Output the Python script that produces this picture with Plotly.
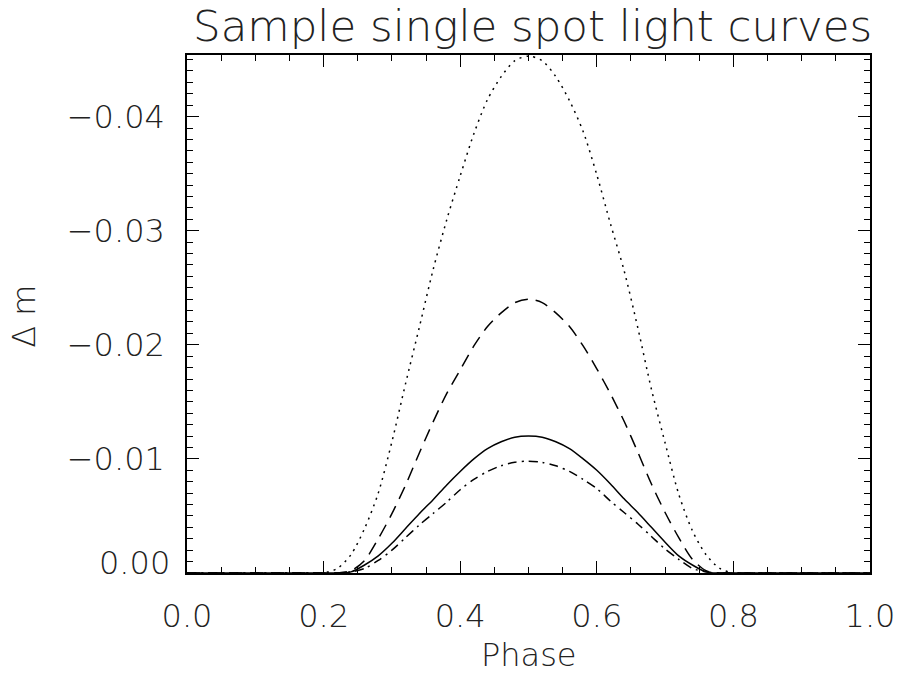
import plotly.graph_objects as go

# Phase grid and light-curve depths (delta magnitude, negative = brighter)
phase = [0.0, 0.18, 0.20, 0.22, 0.24, 0.26, 0.28, 0.30, 0.32, 0.34, 0.36, 0.38,
         0.40, 0.42, 0.44, 0.46, 0.48, 0.50, 0.52, 0.54, 0.56, 0.58, 0.60, 0.62,
         0.64, 0.66, 0.68, 0.70, 0.72, 0.74, 0.76, 0.78, 0.80, 0.82, 1.0]

dm_dotted = [0.0, 0.0, 0.0, -0.0004, -0.0016, -0.0039, -0.0070, -0.0115, -0.0166,
             -0.0215, -0.0265, -0.0309, -0.0348, -0.0385, -0.0415, -0.0435, -0.0449,
             -0.0453, -0.0449, -0.0435, -0.0414, -0.0387, -0.0349, -0.0306, -0.0265,
             -0.0215, -0.0161, -0.0114, -0.0069, -0.0037, -0.0016, -0.0004, 0.0, 0.0, 0.0]

dm_dashed = [0.0, 0.0, 0.0, 0.0, -0.0002, -0.0011, -0.0030, -0.0052, -0.0077,
             -0.0105, -0.0132, -0.0157, -0.0178, -0.0199, -0.0216, -0.0228, -0.0237,
             -0.0240, -0.0237, -0.0228, -0.0216, -0.0199, -0.0179, -0.0157, -0.0133,
             -0.0106, -0.0078, -0.0053, -0.0031, -0.0012, -0.0002, 0.0, 0.0, 0.0, 0.0]

dm_solid = [0.0, 0.0, 0.0, 0.0, -0.0001, -0.0007, -0.0015, -0.0026, -0.0039,
            -0.0052, -0.0064, -0.0077, -0.0089, -0.0100, -0.0109, -0.0115, -0.0119,
            -0.0120, -0.0119, -0.0115, -0.0109, -0.0100, -0.0090, -0.0078, -0.0065,
            -0.0053, -0.0040, -0.0027, -0.0015, -0.0007, -0.0001, 0.0, 0.0, 0.0, 0.0]

dm_dashdot = [0.0, 0.0, 0.0, 0.0, -0.0001, -0.0004, -0.0011, -0.0020, -0.0031,
              -0.0042, -0.0052, -0.0062, -0.0073, -0.0082, -0.0089, -0.0094, -0.0097,
              -0.0098, -0.0097, -0.0094, -0.0089, -0.0082, -0.0074, -0.0063, -0.0053,
              -0.0043, -0.0032, -0.0021, -0.0012, -0.0004, -0.0001, 0.0, 0.0, 0.0, 0.0]

x_ticks = [0.0, 0.2, 0.4, 0.6, 0.8, 1.0]
x_ticklabels = ["0.0", "0.2", "0.4", "0.6", "0.8", "1.0"]
y_ticks = [-0.04, -0.03, -0.02, -0.01, 0.0]
y_ticklabels = ["\u22120.04", "\u22120.03", "\u22120.02", "\u22120.01", ""]

FONT = "DejaVu Sans"
INK = "black"
TEXT_INK = "#222"

fig = go.Figure()
styles = [
    (dm_dotted, "2px,5px"),
    (dm_dashed, "13px,8px"),
    (dm_solid, "solid"),
    (dm_dashdot, "9px,5px,2px,5px"),
]
for ys, dash in styles:
    fig.add_trace(go.Scatter(
        x=phase, y=ys, mode="lines",
        line=dict(color=INK, width=1.5, dash=dash, shape="spline", smoothing=0.8),
        showlegend=False, hoverinfo="skip",
    ))

txt = dict(family=FONT, size=32, color=TEXT_INK, weight=200)

axis_common = dict(
    showline=True, linecolor=INK, linewidth=1.5, mirror="ticks",
    ticks="inside", tickcolor=INK, tickwidth=1.2, automargin=False,
    showgrid=False, zeroline=False, tickfont=txt,
)

fig.update_xaxes(
    range=[0.0, 1.0], tickvals=x_ticks, ticktext=x_ticklabels, ticklen=12,
    ticklabelstandoff=14,
    minor=dict(dtick=0.05, ticks="inside", ticklen=6, tickcolor=INK, tickwidth=1.2),
    **axis_common,
)
fig.update_yaxes(
    range=[0.0, -0.0454], tickvals=y_ticks, ticktext=y_ticklabels, ticklen=12,
    ticklabelstandoff=14,
    minor=dict(dtick=0.001, ticks="inside", ticklen=6, tickcolor=INK, tickwidth=1.2),
    **axis_common,
)

fig.update_layout(
    width=900, height=675,
    margin=dict(l=187, r=30, t=55, b=102),
    paper_bgcolor="white", plot_bgcolor="white",
    title=dict(text="Sample single spot light curves", x=0.506, xref="paper",
               xanchor="center", y=1 - 26 / 675, yanchor="middle",
               font=dict(family=FONT, size=43.5, color=TEXT_INK, weight=200)),
    annotations=[
        dict(text="0.00", xref="paper", yref="paper", x=-0.022, y=0.02,
             xanchor="right", yanchor="middle", showarrow=False, font=txt),
        dict(text="Phase", xref="paper", yref="paper", x=0.5, y=-0.158,
             xanchor="center", yanchor="middle", showarrow=False, font=txt),
        dict(text="\u0394 m", xref="paper", yref="paper", x=-0.239, y=0.496,
             xanchor="center", yanchor="middle", textangle=-90,
             showarrow=False, font=txt),
    ],
)

fig.write_html("out.html")
